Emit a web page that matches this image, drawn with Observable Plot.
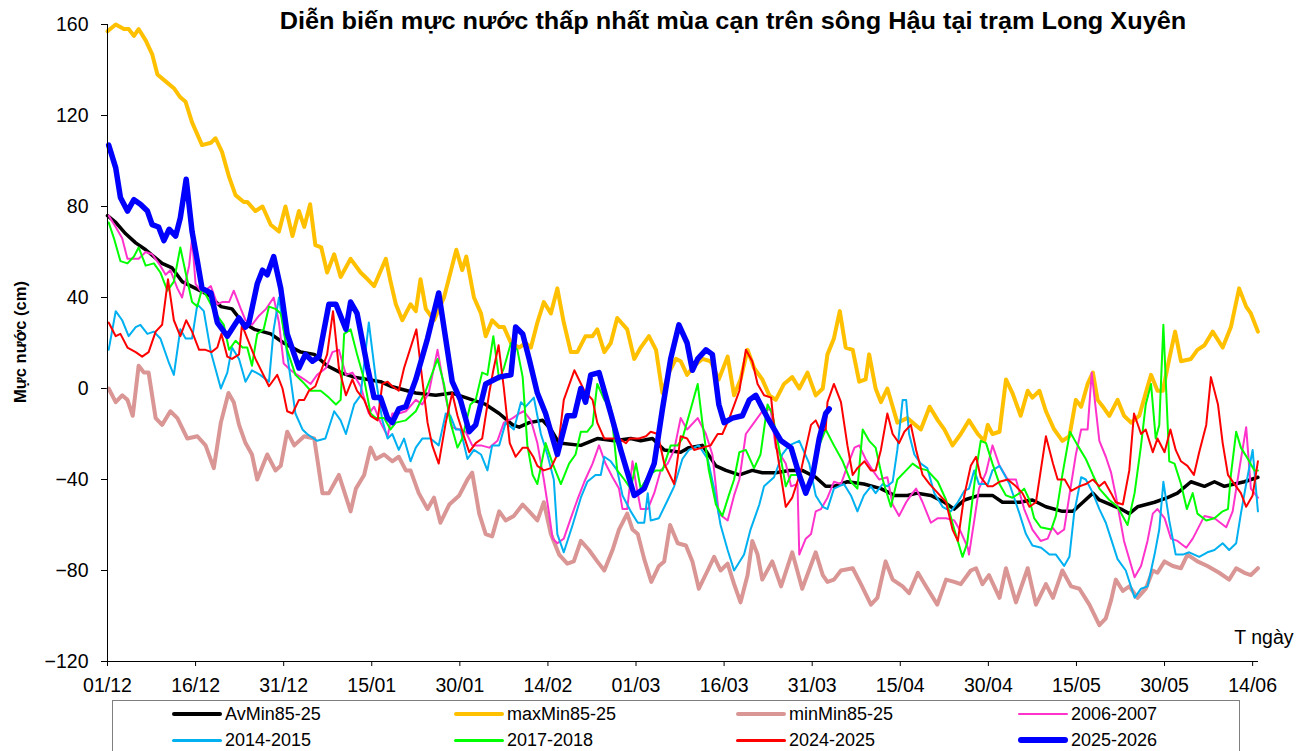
<!DOCTYPE html>
<html><head><meta charset="utf-8">
<script src="https://cdn.jsdelivr.net/npm/d3@7"></script>
<script src="https://cdn.jsdelivr.net/npm/@observablehq/plot@0.6"></script>
<style>
html,body{margin:0;padding:0;background:#fff;overflow:hidden;}
#wrap{position:relative;width:1311px;height:751px;font-family:"Liberation Sans",Arial,sans-serif;color:#000;}
#title{position:absolute;top:8px;left:733px;transform:translateX(-50%) scaleX(1.1);white-space:nowrap;font-weight:bold;font-size:23px;line-height:27px;}
#ytitle{position:absolute;left:20px;top:342px;transform:translate(-50%,-50%) rotate(-90deg);white-space:nowrap;font-weight:bold;font-size:16.5px;}
#legend{position:absolute;left:112px;top:700px;width:1128px;height:70px;border:1px solid #7f7f7f;box-sizing:border-box;background:#fff;}
.item{position:absolute;display:flex;align-items:center;height:20px;font-size:18px;white-space:nowrap;}
.sw{width:50px;margin-right:3px;border-radius:3px;}
</style></head>
<body><div id="wrap"><div id="chart"></div><div id="title"></div><div id="ytitle"></div><div id="legend"></div></div>
<script>
const titleText = "Diễn biến mực nước thấp nhất mùa cạn trên sông Hậu tại trạm Long Xuyên";
const yTitle = "Mực nước (cm)";
const xUnit = "T ngày";
const xTickDays = [0,15,30,45,60,75,90,105,120,135,150,165,180,195];
const xTickLabels = ["01/12","16/12","31/12","15/01","30/01","14/02","01/03","16/03","31/03","15/04","30/04","15/05","30/05","14/06"];
const yTicks = [-120,-80,-40,0,40,80,120,160];
const seriesNames = ["AvMin85-25","maxMin85-25","minMin85-25","2006-2007","2014-2015","2017-2018","2024-2025","2025-2026"];

// [day since 01/12, water level cm]
const avMin = [[0,76],[1.4,73],[3.1,68],[4.8,64],[6.5,61],[7.9,58],[9.3,55],[11,53],[12.7,47],[15,44],[17.3,41],[19.3,36],[21.2,35],[23,29],[25,26],[27.8,24],[30,20],[32.9,16],[35.2,15],[37.4,10],[39.7,7],[42,5],[44.3,4],[46.5,3],[48.2,1],[49.6,0],[52.5,-2],[55.9,-3],[58.7,-2],[61,-4],[64.4,-7],[66.7,-11],[69,-16],[70.1,-17],[71.8,-15],[74.1,-14],[75.5,-18],[76.9,-24],[80.6,-25],[83.4,-22],[86.3,-23],[89.1,-22],[90.8,-23],[92.8,-22],[94.8,-27],[97.6,-28],[99,-26],[101.3,-25],[103.6,-34],[105.3,-36],[107.6,-38],[109.8,-36],[111.5,-37],[113.8,-37],[116.1,-36],[118.3,-36],[120.6,-39],[122.3,-43],[123.7,-43],[126,-41],[128.8,-42],[131.7,-44],[134,-47],[136.2,-47],[137.9,-46],[140.2,-47],[142.5,-50],[144.2,-53],[145.9,-49],[148.4,-47],[150.7,-47],[152.4,-50],[155.3,-50],[157.5,-49],[159.8,-52],[162.6,-54],[164.4,-54],[166.1,-50],[167.8,-46],[168.9,-49],[171.7,-52],[172.6,-53],[174,-55],[175.4,-52],[178.3,-50],[180.5,-48],[182.2,-46],[184.5,-41],[186.8,-43],[188.5,-41],[190.2,-43],[191.9,-42],[193.6,-41],[195.9,-39]];

const maxMin = [[0,157],[1.4,160],[2.8,158],[3.6,158],[4.5,155],[5.3,158],[6.5,153],[7.6,147],[8.5,138],[9.9,135],[11.3,132],[12.4,128],[13.3,126],[14.4,117],[16.1,107],[17.6,108],[18.4,110],[19.5,104],[20.7,93],[21.8,85],[23.2,82],[23.8,82],[25.2,78],[26.4,80],[27.8,72],[29.2,69],[30.3,80],[31.5,67],[32.6,78],[33.5,71],[34.5,81],[35.4,63],[36.4,62],[37.4,51],[38.6,59],[39.7,49],[41.4,57],[43.1,51],[44.3,48],[45.4,45],[47.4,57],[48.2,47],[49.1,37],[50.2,30],[51.6,37],[52.5,34],[53.3,48],[54.2,35],[55.6,30],[57.3,40],[58.4,51],[59.4,61],[60.4,52],[61.1,58],[62.4,40],[63.6,33],[64.4,23],[65.5,30],[66.7,27],[67.5,27],[68.7,20],[70.1,18],[71.2,20],[72.1,18],[73.2,29],[74.3,38],[75.5,33],[76.6,44],[77.7,29],[78.9,16],[80,16],[81.4,23],[82.6,23],[83.4,26],[84.6,16],[85.7,20],[86.8,31],[88.5,26],[89.7,13],[90.8,18],[92.2,23],[93.4,17],[94.5,-2],[95.6,7],[96.8,13],[97.6,12],[98.7,6],[99.9,10],[101.3,13],[102.7,12],[104.1,4],[105.6,14],[106.7,-3],[107.8,4],[109,17],[110.1,9],[111.5,4],[112.7,-3],[113.8,-5],[115.2,2],[116.6,5],[117.8,0],[119.2,7],[120.6,-3],[121.8,0],[122.6,15],[123.7,22],[124.7,34],[125.7,18],[126.9,17],[128,3],[129.1,4],[129.7,15],[130.8,0],[131.7,-6],[132.8,0],[134.5,-15],[136.2,-13],[137.1,-15],[138.5,-18],[140,-8],[141.4,-14],[142.5,-18],[143.9,-25],[145.3,-20],[146.7,-14],[148.2,-20],[149.3,-23],[149.9,-16],[150.7,-20],[151.9,-19],[153,4],[154.1,-2],[155.5,-12],[156.7,-1],[157.5,-4],[158.7,-1],[159.8,-10],[161.2,-18],[162.6,-23],[163.8,-21],[164.9,-5],[165.8,-8],[166.9,2],[167.8,7],[168.6,-5],[169.5,-8],[170.6,-12],[172,-5],[173.1,-12],[174.3,-15],[175.7,-12],[176.8,-2],[177.7,6],[178.8,-1],[179.7,-1],[180.8,13],[181.8,25],[182.8,12],[184.5,13],[185.6,17],[186.8,19],[188.2,25],[189.9,18],[191.3,27],[192.7,44],[193.9,36],[194.7,33],[195.9,25]];

const minMin = [[0.2,0],[1.4,-6],[2.5,-3],[3.4,-5],[4.3,-12],[5.3,10],[6.2,7],[7,7],[8.2,-13],[9.3,-16],[10.7,-10],[11.9,-13],[13.6,-22],[15.3,-21],[16.7,-25],[18.1,-35],[19.3,-15],[20.6,-2],[21.5,-6],[22.4,-16],[23.5,-24],[24.6,-29],[25.5,-40],[27.2,-29],[28.6,-36],[29.5,-34],[30.6,-19],[31.8,-25],[33.5,-21],[35.2,-22],[36.6,-46],[37.7,-46],[39.4,-38],[41.4,-54],[42.3,-44],[43.7,-38],[44.8,-26],[45.7,-31],[47.1,-29],[48.5,-32],[49.6,-30],[50.8,-36],[51.6,-36],[53,-46],[54.5,-53],[55.6,-48],[56.7,-59],[58.2,-51],[59.9,-47],[61.3,-40],[62.1,-37],[63.3,-55],[64.4,-64],[65.5,-65],[66.7,-54],[67.8,-58],[69.2,-56],[70.7,-51],[71.8,-54],[73.2,-58],[74.3,-50],[75.5,-64],[76.9,-73],[78.3,-77],[79.4,-76],[80.6,-67],[82,-71],[83.4,-76],[84.6,-80],[86,-71],[87.1,-62],[88.5,-55],[89.4,-62],[90.3,-64],[91.4,-75],[92.6,-85],[93.9,-78],[94.8,-76],[95.8,-60],[97.1,-68],[98.5,-69],[99.6,-76],[100.7,-88],[102.2,-80],[103.3,-74],[104.4,-80],[105.6,-77],[106.7,-86],[107.8,-94],[109,-82],[109.8,-67],[110.7,-73],[111.5,-84],[113.2,-76],[114.7,-87],[116.6,-72],[118.3,-88],[120.6,-72],[121.8,-82],[122.6,-85],[123.7,-84],[124.9,-80],[126.9,-79],[128.3,-86],[130,-95],[131.1,-92],[132.5,-76],[133.7,-84],[135.4,-87],[136.5,-90],[138,-81],[139.4,-87],[141.3,-95],[142.8,-84],[144.2,-85],[145.3,-86],[147,-80],[147.9,-79],[149,-86],[150.1,-82],[151.9,-92],[153,-79],[154.7,-94],[156.7,-79],[158.1,-95],[159.8,-86],[161,-92],[162.6,-80],[164.1,-87],[165.5,-88],[167.2,-95],[168.9,-104],[170,-101],[170.9,-93],[171.7,-84],[172.9,-89],[174,-87],[175.4,-92],[176.8,-88],[178,-80],[178.8,-81],[180,-76],[181.4,-78],[182.8,-79],[183.9,-73],[185.6,-76],[187.3,-78],[189.3,-81],[191,-84],[192.2,-79],[193.6,-81],[194.7,-82],[195.9,-79]];

const y0607 = [[0.2,76],[1.4,71],[2.5,66],[3.4,57],[4.5,57],[5.3,57],[6.5,60],[7.6,59],[9,54],[9.9,50],[10.7,52],[11.9,44],[12.7,40],[13.9,54],[14.4,66],[15,46],[16.1,42],[17.6,45],[18.7,37],[19.5,38],[20.7,38],[21.5,43],[22.7,35],[23.5,30],[24.6,28],[25.8,32],[27,35],[28.3,40],[29.2,29],[30,11],[31.2,8],[32.3,6],[33.5,4],[34.6,2],[35.7,6],[37.2,9],[38.3,16],[39.4,17],[40.6,6],[41.7,7],[43.1,1],[44.5,-11],[45.4,-8],[46.5,-15],[47.7,-21],[48.5,-11],[49.6,-11],[50.8,-10],[52.5,-5],[53.6,-7],[54.7,-2],[56.2,17],[57.6,-4],[58.7,-17],[59.9,-18],[61,-19],[62.1,-25],[63.6,-25],[65,-26],[66.4,-23],[67.5,-15],[69,-13],[70.1,-11],[70.9,-10],[72.1,-14],[73.2,-24],[74.3,-40],[75.2,-55],[75.8,-66],[76.6,-68],[77.7,-66],[78.9,-57],[80,-49],[81.2,-41],[82.6,-33],[83.7,-25],[84.8,-33],[86,-39],[87.1,-44],[87.7,-53],[88.5,-53],[89.4,-32],[90,-42],[90.8,-53],[92,-53],[93.1,-46],[94.2,-36],[95.4,-33],[96.5,-27],[97.6,-13],[98.7,-18],[100.5,-13],[101.9,-20],[103,-29],[104.1,-55],[105.6,-58],[106.7,-47],[107.6,-40],[108.7,-20],[110.1,-15],[111.5,-10],[112.9,-9],[113.8,-26],[115.5,-33],[116.4,-43],[117.5,-42],[117.8,-73],[118.9,-66],[119.8,-64],[120.6,-54],[121.5,-53],[122.6,-48],[123.7,-41],[124.9,-42],[126,-34],[127.2,-26],[128,-25],[129.1,-31],[130.3,-36],[131.4,-40],[132.8,-39],[133.7,-51],[134.8,-56],[136,-50],[136.8,-47],[137.7,-44],[138.8,-50],[140.2,-59],[141.4,-57],[142.8,-57],[144.2,-58],[145.3,-63],[146.5,-70],[146.7,-73],[147.6,-58],[148.4,-44],[149.6,-37],[150.7,-25],[151.9,-34],[153.3,-40],[154.7,-40],[156.1,-53],[157.5,-62],[158.9,-67],[160.1,-66],[160.9,-61],[161.8,-64],[162.9,-62],[163.8,-47],[164.9,-29],[165.8,-18],[166.9,-18],[167.6,7],[168.9,-23],[170,-30],[170.9,-37],[171.7,-47],[173.1,-67],[174.9,-83],[176,-78],[177.1,-67],[178,-55],[178.8,-53],[180,-57],[181.1,-66],[182.2,-67],[183.7,-70],[184.8,-66],[186.8,-56],[188.5,-57],[190.5,-61],[191.6,-54],[192.7,-36],[193.9,-17],[194.7,-44],[195.9,-48]];

const y1415 = [[0.2,17],[1.4,34],[2.5,30],[3.6,23],[4.8,27],[5.6,28],[6.8,24],[7.9,25],[9,22],[10.5,11],[11.3,6],[12.4,26],[13.3,22],[14.4,22],[15.3,37],[16.4,34],[17.6,16],[19.3,0],[20.4,7],[21.2,18],[22.4,13],[23.5,3],[24.6,8],[26,6],[27.5,3],[28.3,26],[29.2,40],[30,26],[31.2,4],[32,-11],[33.2,-18],[34,-20],[35.7,-23],[37.1,-22],[38.6,-10],[39.7,-14],[40.6,-20],[42,-7],[43.1,-3],[44.5,29],[45.7,4],[46.8,-14],[47.7,-22],[48.5,-20],[49.6,-27],[50.5,-22],[51.6,-32],[52.5,-26],[53.6,-22],[55,-22],[56.4,-25],[57.6,-11],[58.4,-12],[59.3,-18],[60.1,-18],[61.3,-31],[62.4,-27],[63.6,-29],[64.7,-36],[65.5,-25],[66.7,-25],[67.8,-15],[69.2,-18],[70.4,-6],[71.2,-8],[72.6,-4],[73.8,-20],[74.9,-29],[76,-40],[76.6,-64],[77.7,-72],[79.2,-60],[80.6,-48],[81.7,-41],[83.1,-38],[84,-38],[84.6,-30],[85.7,-32],[86.8,-36],[87.7,-47],[89.1,-54],[90.3,-59],[91.4,-59],[92,-46],[92.5,-58],[93.9,-57],[95.4,-49],[96.5,-43],[97.9,-31],[99,-27],[100.7,-25],[102.2,-31],[103.3,-44],[104.4,-60],[105.6,-71],[106.7,-80],[108.4,-73],[109.5,-62],[111,-51],[111.8,-43],[113.5,-39],[114.9,-29],[116.1,-25],[117.8,-23],[119.5,-33],[120.6,-47],[121.8,-52],[122.6,-53],[123.7,-44],[125.4,-42],[126.6,-47],[127.7,-54],[128.8,-47],[130,-43],[130.8,-46],[132,-42],[132.8,-43],[133.7,-41],[134.5,-27],[135.4,-5],[136,-5],[136.5,-20],[137.4,-29],[138.5,-33],[139.6,-35],[140.8,-46],[142.2,-52],[143.6,-54],[144.8,-50],[145.9,-45],[146.7,-44],[147.6,-36],[148.4,-42],[149.9,-42],[150.7,-36],[151.9,-34],[153.6,-42],[155.3,-55],[156.4,-64],[157.5,-69],[159,-70],[160.4,-73],[161.5,-73],[162.9,-78],[163.8,-74],[164.6,-55],[165.8,-39],[166.6,-40],[167.8,-46],[168.9,-53],[170,-59],[171,-67],[172,-75],[173.4,-80],[174.9,-92],[176,-88],[177.1,-87],[178.3,-73],[179.1,-62],[179.8,-41],[180.8,-58],[181.9,-73],[183.1,-73],[184.2,-72],[185.9,-74],[187.3,-72],[188.5,-71],[189.9,-68],[191,-71],[192.2,-68],[193,-55],[193.9,-42],[195,-27],[195.9,-54]];

const y1718 = [[0.2,73],[1.1,66],[2.2,56],[3.4,55],[4.5,58],[5.3,62],[6.5,54],[7.9,55],[9,51],[10.2,43],[11.3,47],[12.4,62],[13.3,51],[14.4,38],[15.3,36],[16.1,44],[17,40],[18.4,33],[19.8,28],[20.7,17],[21.8,21],[23,18],[23.8,18],[24.6,10],[25.5,24],[26.6,26],[27.5,36],[28.6,35],[29.5,33],[30.6,17],[32,6],[33.2,3],[34.6,-1],[36.3,-1],[37.7,-4],[38.9,-7],[39.7,-5],[40.3,24],[41.4,26],[42.5,15],[43.7,4],[44.8,-11],[45.7,-13],[47.1,-13],[48.2,-18],[49.1,-15],[50.8,-14],[52.5,-10],[54.2,-1],[56.2,13],[57.3,2],[58.4,-15],[59.6,-26],[60.4,-22],[61.8,-7],[62.7,-5],[63.8,7],[64.7,6],[65.7,23],[66.7,4],[67.5,9],[68.7,20],[69.8,17],[70.7,5],[71.5,-25],[72.4,-38],[73.2,-42],[74.6,-24],[75.8,-33],[77.2,-42],[78.6,-33],[79.7,-29],[80.6,-19],[81.7,-19],[82.6,-16],[83.4,2],[84.6,-5],[85.7,-8],[86.8,-36],[88,-40],[89.1,-44],[90,-33],[90.8,-44],[92.2,-38],[93.4,-36],[94.5,-36],[95.9,-25],[97.1,-25],[97.9,-22],[99,-12],[100.5,2],[101.3,-15],[102.4,-36],[103.6,-51],[104.7,-56],[105.8,-47],[106.7,-40],[107.6,-28],[108.7,-27],[110.1,-35],[111.2,-29],[112.4,-7],[113.2,-11],[114.4,-27],[115.5,-43],[116.4,-38],[117.5,-38],[118.9,-46],[120.1,-38],[121.2,-25],[122.3,-18],[123.7,-25],[125.2,-32],[126.6,-41],[127.7,-44],[128.6,-18],[129.7,-23],[130.8,-26],[132,-40],[133.4,-52],[134.5,-40],[136,-36],[137.1,-33],[138.2,-35],[139.6,-36],[141.4,-41],[142.8,-49],[144.2,-62],[145.6,-74],[146.4,-68],[147,-55],[147.9,-36],[148.7,-23],[149.6,-24],[150.7,-33],[151.9,-42],[153,-47],[154.1,-48],[155.3,-46],[156.1,-44],[157,-49],[157.8,-57],[158.9,-61],[160.7,-62],[161.5,-56],[162.6,-38],[163.9,-19],[165.2,-25],[166.6,-31],[167.8,-38],[168.9,-44],[170.6,-49],[172,-52],[173.7,-60],[174.9,-46],[176,-25],[176.8,-7],[177.7,2],[178.5,-22],[179.1,-16],[179.8,28],[180.8,-32],[181.7,-33],[182.8,-42],[183.8,-53],[184.8,-46],[185.6,-55],[187.1,-58],[188.5,-57],[189.9,-54],[190.8,-53],[191.3,-38],[192.2,-19],[193,-26],[194.2,-31],[195.3,-36],[195.9,-36]];

const y2425 = [[0.2,29],[1.4,23],[2.2,24],[3.4,18],[4.8,16],[5.9,14],[7,16],[8.2,25],[9.3,28],[10.3,48],[11.3,30],[12.4,23],[13.4,30],[14.4,25],[15.6,17],[16.7,17],[17.7,16],[18.7,18],[19.4,24],[20.4,14],[21.2,13],[22.4,15],[22.9,28],[23.8,22],[25.2,13],[27.5,1],[28.9,6],[29.8,0],[30.6,-10],[31.5,-11],[32.6,-5],[33.5,-5],[34.3,-1],[35.4,1],[37.4,15],[38.4,34],[39.4,9],[40.6,-3],[41.7,4],[42.5,-1],[43.7,-5],[44.8,-12],[46,-14],[46.8,2],[47.7,3],[48.5,1],[49.6,-1],[50.5,9],[52.6,26],[53.6,4],[54.5,-15],[55.3,-25],[56.4,-33],[57.6,-15],[58.7,-2],[59.6,-12],[60.7,-21],[61.6,-28],[62.7,-24],[63.8,-22],[65,-2],[65.7,8],[66.6,19],[67.5,0],[68.5,-24],[69.5,-30],[70.7,-26],[71.5,-26],[72.5,-30],[73.2,-34],[74.3,-36],[75.5,-35],[76.6,-29],[77.7,-5],[79.5,8],[81.2,-1],[82.6,-5],[83.4,-15],[84.6,-22],[85.7,-22],[87.1,-22],[88.3,-24],[88.9,-22],[90.5,-22],[91.7,-21],[92.5,-19],[93.7,-20],[94.8,-33],[96.5,-42],[97.6,-21],[98.7,-22],[99.9,-27],[101.3,-26],[102.7,-25],[103.9,-20],[104.7,-20],[105.9,-13],[107.6,-1],[108.7,17],[109.8,12],[110.7,2],[111.8,-3],[113,-4],[113.8,-24],[115.5,-52],[116.6,-48],[118.1,-36],[119.8,-16],[120.6,-14],[121.5,-19],[122.3,-18],[122.6,-6],[123.7,2],[124.9,-6],[126,-25],[126.9,-38],[127.7,-35],[128.9,-32],[130,-36],[130.8,-36],[131.7,-27],[132.8,-11],[133.7,-20],[134.8,-24],[135.7,-19],[136.8,-16],[137.7,-27],[138.8,-38],[140,-42],[141.4,-46],[142.8,-50],[143.9,-62],[144.8,-67],[145.9,-47],[147,-34],[147.9,-30],[148.7,-39],[149.9,-43],[150.7,-43],[151.9,-41],[153.3,-40],[154.7,-43],[155.8,-46],[157,-52],[158.1,-50],[159.8,-21],[161,-33],[161.8,-40],[163,-40],[164.1,-45],[165.5,-43],[166.6,-42],[167.8,-40],[168.9,-43],[169.8,-41],[170.9,-46],[171.7,-50],[172.9,-51],[174,-36],[174.8,-11],[176,-20],[176.8,-18],[178,-28],[178.8,-22],[180,-28],[181,-18],[181.9,-27],[182.8,-32],[183.9,-34],[185,-38],[185.9,-28],[187.1,-16],[187.9,5],[189.1,-7],[189.9,-24],[190.8,-38],[191.9,-42],[193,-46],[193.9,-52],[195,-47],[195.9,-32]];

const y2526 = [[0.2,107],[1.4,97],[2.2,84],[3.4,78],[4.5,83],[5.6,81],[6.8,78],[7.6,72],[8.7,71],[9.6,65],[10.5,70],[11.6,67],[12.4,75],[13.4,92],[14.4,69],[15.3,56],[16.1,44],[17.6,42],[18.7,29],[20.4,23],[22.4,31],[23.5,27],[24.1,29],[25.5,46],[26.4,52],[27.2,50],[28.3,58],[29.5,44],[30.6,24],[32.6,9],[33.7,15],[34.9,12],[36,14],[37.7,37],[38.9,37],[40.6,26],[41.4,38],[42.5,33],[44.3,9],[45.4,-4],[46.5,-4],[47.7,-13],[48.5,-15],[49.6,-9],[50.8,-8],[52.5,4],[54.5,22],[56.4,42],[58.7,3],[60.1,-5],[61.6,-19],[62.7,-16],[64.4,2],[66.7,5],[68.7,6],[69.5,27],[70.7,24],[71.8,13],[73.2,-2],[74.6,-11],[76.6,-29],[78.3,-12],[79.5,-12],[80.6,0],[81.4,-6],[82.3,6],[83.7,7],[85.7,-11],[87.4,-27],[89.7,-47],[91.4,-44],[93.1,-33],[94.5,-9],[95.9,13],[97.3,28],[98.7,20],[99.6,8],[100.5,13],[101.9,17],[103,15],[104.1,-7],[105,-15],[106.4,-13],[108.1,-12],[109.3,-5],[110.4,-3],[112.4,-13],[114.7,-23],[116.4,-26],[117.8,-38],[118.9,-46],[120.1,-38],[121.2,-22],[122.3,-11],[122.9,-9]];

const seriesData = [avMin, maxMin, minMin, y0607, y1415, y1718, y2425, y2526];
const seriesColors = ["#000000","#FFC000","#D99694","#FF33CC","#00B0F0","#00FF00","#FF0000","#0000FF"];
const seriesWidths = [3.5,4,4,2,2,2,2,5.5];
const legendWidths = [4,4,4,2.5,3,3,3,6];

const lines = seriesData.map((data, i) => Plot.line(data, {
  x: d => d[0], y: d => d[1],
  stroke: seriesColors[i], strokeWidth: seriesWidths[i],
  strokeLinejoin: "round", strokeLinecap: "round"
}));

const chart = Plot.plot({
  width: 1311, height: 700,
  marginTop: 24, marginBottom: 39, marginLeft: 107, marginRight: 53,
  style: {fontFamily: "'Liberation Sans', Arial, sans-serif", fontSize: "19.5px", color: "#000", background: "#fff", overflow: "visible"},
  x: {domain: [0, 196], ticks: xTickDays, tickFormat: d => xTickLabels[xTickDays.indexOf(d)], tickSize: 5, tickPadding: 12, label: null},
  y: {domain: [-120, 160], ticks: yTicks, tickSize: 6, tickPadding: 13, label: null},
  marks: [
    ...lines,
    Plot.ruleX([0], {stroke: "#000", strokeWidth: 1}),
    Plot.ruleY([-120], {stroke: "#000", strokeWidth: 1}),
    Plot.text([xUnit], {frameAnchor: "bottom-right", dx: 35, dy: -18, textAnchor: "end", fontSize: 19.5, fill: "#000"})
  ]
});
document.getElementById("chart").appendChild(chart);
document.getElementById("title").textContent = titleText;
document.getElementById("ytitle").textContent = yTitle;

const legend = document.getElementById("legend");
seriesNames.forEach((name, i) => {
  const col = i % 4, row = Math.floor(i / 4);
  const item = document.createElement("div");
  item.className = "item";
  item.style.left = (59 + 282 * col) + "px";
  item.style.top = (3 + 26 * row) + "px";
  const sw = document.createElement("div");
  sw.className = "sw";
  sw.style.height = legendWidths[i] + "px";
  sw.style.background = seriesColors[i];
  const tx = document.createElement("span");
  tx.textContent = name;
  item.appendChild(sw); item.appendChild(tx);
  legend.appendChild(item);
});
</script>
</body></html>
